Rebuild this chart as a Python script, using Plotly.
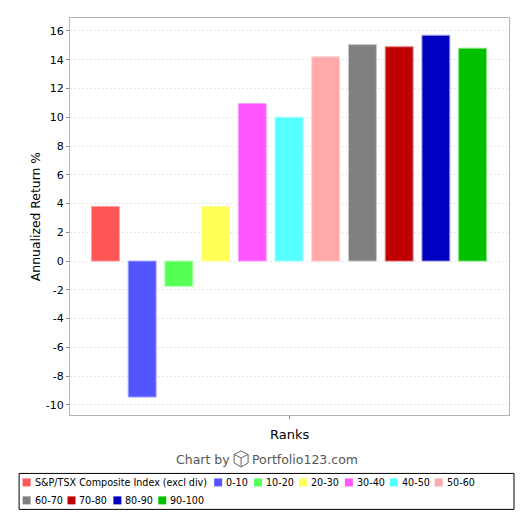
import plotly.graph_objects as go

series = ["S&P/TSX Composite Index (excl div)", "0-10", "10-20", "20-30", "30-40", "40-50",
          "50-60", "60-70", "70-80", "80-90", "90-100"]
values = [3.8, -9.45, -1.75, 3.8, 10.95, 10.0, 14.2, 15.05, 14.9, 15.7, 14.8]
colors = ["#FF5555", "#5555FF", "#55FF55", "#FFFF55", "#FF55FF", "#55FFFF", "#FFAAAA",
          "#808080", "#C00000", "#0000C0", "#00C000"]
edges = ["#FFA0A0", "#A0A0FF", "#A0FFA0", "#FFFFA0", "#FFA0FF", "#A0FFFF", "#FFD0D0",
         "#C8C8C8", "#E88080", "#A0A0E8", "#80E880"]
tick_vals = list(range(-10, 18, 2))
tick_text = [str(t) for t in tick_vals]
W, H = 530, 525
OFF = 8  # the page's own body margin
L, R, T, B = 69.5, 509.5, 17.5, 415.0
FONT = "DejaVu Sans"
leg_x = [22, 214, 254, 299, 345, 390, 435, 22, 67, 113, 158]
leg_y = [482.5]*7 + [500.5]*4

fig = go.Figure()
for s, v, c, e in zip(series, values, colors, edges):
    fig.add_bar(name=s, x=["Ranks"], y=[v], marker=dict(color=c, line=dict(color=e, width=1)), showlegend=False)

px = lambda x: (x - L) / (R - L)
py = lambda y: (B - y) / (B - T)
shapes = [dict(type="rect", xref="paper", yref="paper", x0=px(18.5), x1=px(514.5), y0=py(473.5), y1=py(509.5),
               line=dict(color="black", width=1), fillcolor="white", layer="below")]
annos = [
    dict(text="Ranks", x=px(289), y=py(434.5), font=dict(size=13, color="black")),
    dict(text="Chart by", x=px(203), y=py(459.5), font=dict(size=12.5, color="#555555")),
    dict(text="Portfolio123.com", x=px(305.5), y=py(459.5), font=dict(size=12.5, color="#555555")),
]
for name, x, y, c in zip(series, leg_x, leg_y, colors):
    shapes.append(dict(type="rect", xref="paper", yref="paper", x0=px(x), x1=px(x + 8), y0=py(y - 4), y1=py(y + 4),
                       fillcolor=c, line=dict(width=0)))
    annos.append(dict(text=name, x=px(x + 10), y=py(y), xanchor="left", font=dict(size=9.6, color="black")))
for a in annos:
    a.update(xref="paper", yref="paper", showarrow=False, yanchor="middle")
    a.setdefault("xanchor", "center")

# logo cube
cube = "M {} {} L {} {} L {} {} L {} {} L {} {} L {} {} Z M {} {} L {} {} L {} {} M {} {} L {} {}"
pts = [(241, 451), (248, 454.5), (248, 463), (241, 467), (234, 463), (234, 454.5),
       (234, 454.5), (241, 458), (248, 454.5), (241, 458), (241, 467)]
path = cube.format(*[v for x, y in pts for v in (px(x), py(y))])
shapes.append(dict(type="path", xref="paper", yref="paper", path=path, line=dict(color="#666666", width=1)))

fig.update_layout(
    width=W - OFF, height=H - OFF, autosize=False, template=None, showlegend=False,
    paper_bgcolor="white", plot_bgcolor="white",
    margin=dict(l=L - OFF, r=W - R, t=T - OFF, b=H - B, pad=0),
    barmode="group", bargap=0.08, bargroupgap=0.24,
    font=dict(family=FONT, size=11, color="black"),
    shapes=shapes, annotations=annos,
    xaxis=dict(range=[-0.4989, 0.5011], showticklabels=False, ticks="outside", ticklen=3, tickcolor="#888888",
               showgrid=False, showline=True, linecolor="#B4B4B4", linewidth=1, mirror=True, zeroline=False),
    yaxis=dict(range=[-10.7, 16.9], tickvals=tick_vals, ticktext=tick_text, ticks="outside", ticklen=3,
               tickcolor="#888888",
               showline=True, linecolor="#B4B4B4", linewidth=1, mirror=True,
               showgrid=True, gridcolor="#E6E6E6", griddash="2px,2px", gridwidth=1, zeroline=False,
               title=dict(text="Annualized Return %", font=dict(size=12.4), standoff=2), tickfont=dict(size=11)),
)
fig.write_html("out.html")
